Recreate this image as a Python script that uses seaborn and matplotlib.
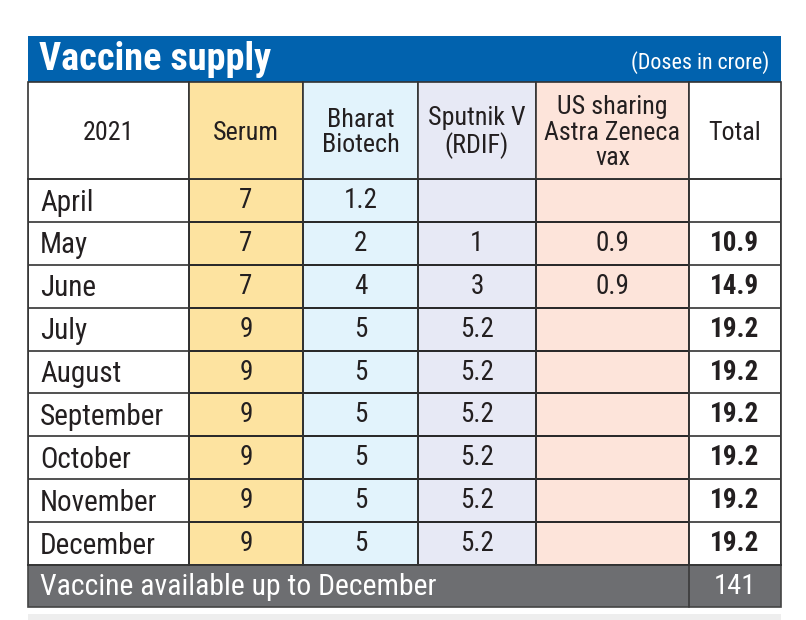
import matplotlib
matplotlib.use("Agg")
import matplotlib.pyplot as plt
from matplotlib import font_manager
from matplotlib.colors import ListedColormap
from matplotlib.patches import Rectangle
import seaborn as sns
import numpy as np

months = ["April", "May", "June", "July", "August", "September",
          "October", "November", "December"]
serum = [7, 7, 7, 9, 9, 9, 9, 9, 9]
bharat = [1.2, 2, 4, 5, 5, 5, 5, 5, 5]
sputnik = [None, 1, 3, 5.2, 5.2, 5.2, 5.2, 5.2, 5.2]
us_az = [None, 0.9, 0.9, None, None, None, None, None, None]
total = [None, 10.9, 14.9, 19.2, 19.2, 19.2, 19.2, 19.2, 19.2]
grand_total = 141

headers = ["2021", "Serum", "Bharat\nBiotech", "Sputnik V\n(RDIF)",
           "US sharing\nAstra Zeneca\nvax", "Total"]
col_colors = ["#ffffff", "#fde3a0", "#e2f3fc", "#e7e9f5", "#fde4da", "#ffffff"]

INK = "#231f20"
W, H = 806, 620
cols_x = [28, 189, 303, 418, 536, 689, 781]
y_title, y_head, y_data, y_foot, y_end = 36, 82, 179, 565, 607


def fig_rect(x0, x1, y0, y1):
    return [x0 / W, 1 - y1 / H, (x1 - x0) / W, (y1 - y0) / H]


def fmt(v):
    return "" if v is None else f"{v:g}"


sns.set_theme(style="white")

# pick a narrow face if one is installed
names = {f.name for f in font_manager.fontManager.ttflist}
FONT = ["DejaVu Sans"]
for cand in ["Liberation Sans Narrow", "Roboto Condensed", "Open Sans Condensed",
             "Noto Sans Condensed", "DejaVu Sans Condensed"]:
    if cand in names:
        FONT = [cand, "DejaVu Sans"]
        break
plt.rcParams["font.family"] = FONT
plt.rcParams["font.stretch"] = "condensed"
narrow = FONT[0] != "DejaVu Sans" or any(
    f.name == "DejaVu Sans" and f.stretch in ("condensed", "semi-condensed", 87.5)
    for f in font_manager.fontManager.ttflist)
k = 1.0 if narrow else 0.88

fig = plt.figure(figsize=(W / 100, H / 100), dpi=100)

# background layer: title bar, header, footer
bg = fig.add_axes([0, 0, 1, 1], zorder=0)
bg.set_xlim(0, W)
bg.set_ylim(H, 0)
bg.axis("off")

bg.add_patch(Rectangle((cols_x[0], y_title), cols_x[-1] - cols_x[0], y_head - y_title,
                       color="#0162ae", lw=0))
bg.text(39, 60, "Vaccine supply", color="white", fontsize=27.5 * k, fontweight="bold",
        va="center", ha="left")
bg.text(769, 63, "(Doses in crore)", color="white", fontsize=15.8 * k,
        va="center", ha="right")

for i, h in enumerate(headers):
    x0, x1 = cols_x[i], cols_x[i + 1]
    bg.add_patch(Rectangle((x0, y_head), x1 - x0, y_data - y_head,
                           facecolor=col_colors[i], edgecolor="#333333", lw=1.2))
    bg.text((x0 + x1) / 2, (y_head + y_data) / 2 + 2, h, color=INK, fontsize=18.7 * k,
            ha="center", va="center", linespacing=1.1)

bg.add_patch(Rectangle((cols_x[0], y_foot), cols_x[-1] - cols_x[0], y_end - y_foot,
                       facecolor="#6d6e71", edgecolor="#444444", lw=1.2))
bg.plot([cols_x[5], cols_x[5]], [y_foot, y_end], color="#3a3a3a", lw=1.2)
bg.text(40, 587, "Vaccine available up to December", color="white", fontsize=21.4 * k,
        ha="left", va="center")
bg.text((cols_x[5] + cols_x[6]) / 2, 587, str(grand_total), color="white",
        fontsize=20.5 * k, ha="center", va="center")
bg.add_patch(Rectangle((cols_x[0], 614), cols_x[-1] - cols_x[0], 6,
                       color="#eeeeee", lw=0))

# data cells: one seaborn heatmap per column
columns = [months, serum, bharat, sputnik, us_az, total]
for i, vals in enumerate(columns):
    ax = fig.add_axes(fig_rect(cols_x[i], cols_x[i + 1], y_data, y_foot), zorder=2)
    cells = np.zeros((len(months), 1))
    if i == 0:
        labels = False
    else:
        labels = np.array([[fmt(v)] for v in vals])
    sns.heatmap(cells, ax=ax, cmap=ListedColormap([col_colors[i]]), cbar=False,
                annot=labels, fmt="", linewidths=1.2,
                linecolor="#555555" if i in (0, 5) else "#2a2a2a",
                annot_kws={"fontsize": 19.5 * k, "color": INK,
                           "fontweight": "bold" if i == 5 else "normal"})
    if i == 0:
        for r, m in enumerate(vals):
            ax.text(0.075, r + 0.55, m, fontsize=21 * k, color=INK,
                    ha="left", va="center")
    ax.set_xticks([])
    ax.set_yticks([])
    for s in ax.spines.values():
        s.set_visible(True)
        s.set_color("#333333")
        s.set_linewidth(1.2)

fig.savefig("out.png", dpi=100)
